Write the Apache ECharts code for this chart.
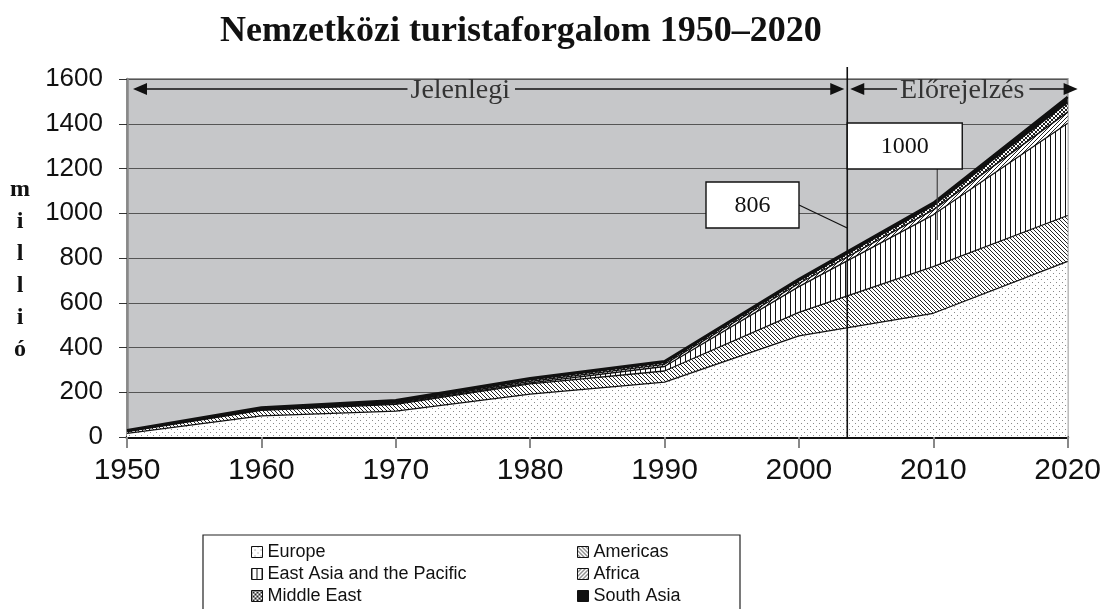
<!DOCTYPE html>
<html><head><meta charset="utf-8">
<script src="https://cdn.jsdelivr.net/npm/echarts@6/dist/echarts.min.js"></script>
<style>html,body{margin:0;padding:0;background:#fff}#c{width:1104px;height:609px}</style>
</head><body><div id="c"></div>
<script>
// ---- data (million international tourist arrivals) ----
const years = ['1950', '1960', '1970', '1980', '1990', '2000', '2010', '2020'];
const europe = [16, 94, 116, 192, 245, 452, 553, 785];
const americas = [8, 25, 30, 45, 50, 105, 208, 205];
const eastAsiaPacific = [1, 2, 3, 5, 20, 115, 232, 412];
const africa = [1, 3, 4, 7, 10, 14, 22, 50];
const middleEast = [1, 2, 3, 6, 7, 12, 19, 42];
const southAsia = [3, 6, 8, 7, 6, 8, 12, 26];
const seriesNames = ['Europe', 'Americas', 'East Asia and the Pacific', 'Africa', 'Middle East', 'South Asia'];
const legendCol1 = ['Europe', 'East Asia and the Pacific', 'Middle East'];
const legendCol2 = ['Americas', 'Africa', 'South Asia'];
const titleText = 'Nemzetközi turistaforgalom 1950–2020';
const yAxisTitle = 'millió';
const periodLabels = ['Jelenlegi', 'Előrejelzés'];
const forecastStart = 2003.6;
const calloutLabels = ['806', '1000'];

// ---- patterns ----
function pat(w, h, draw) {
  const c = document.createElement('canvas'); c.width = w; c.height = h;
  const g = c.getContext('2d'); g.fillStyle = '#fff'; g.fillRect(0, 0, w, h);
  draw(g, w, h); return { image: c, repeat: 'repeat' };
}
const patterns = [
  pat(6, 6, g => { g.fillStyle = '#8a8a8a'; g.fillRect(0, 0, 1, 1); g.fillRect(3, 3, 1, 1); }),
  pat(4, 4, g => { g.fillStyle = '#222'; for (let i = 0; i < 4; i++) g.fillRect(i, i, 1, 1); }),
  pat(5, 2, g => { g.fillStyle = '#111'; g.fillRect(0, 0, 1, 2); }),
  pat(4, 4, g => { g.fillStyle = '#222'; for (let i = 0; i < 4; i++) g.fillRect(3 - i, i, 1, 1); }),
  pat(4, 4, g => { g.fillStyle = '#222'; for (let i = 0; i < 4; i++) { g.fillRect(i, i, 1, 1); g.fillRect(3 - i, i, 1, 1); } }),
  '#111'
];
const values = [europe, americas, eastAsiaPacific, africa, middleEast, southAsia];

const chart = echarts.init(document.getElementById('c'), null, { renderer: 'canvas' });
const legendBase = {
  orient: 'vertical', top: 538, height: 100, itemWidth: 11, itemHeight: 11, itemGap: 4, icon: 'rect',
  itemStyle: { borderColor: '#111', borderWidth: 1 },
  textStyle: { fontSize: 18, fontFamily: 'Liberation Sans, Arial, sans-serif', color: '#111' }
};
chart.setOption({
  animation: false,
  title: { text: titleText, left: 215, top: 9,
    textStyle: { fontSize: 36, fontWeight: 'bold', fontFamily: 'Liberation Serif, Times New Roman, serif', color: '#111' } },
  legend: [
    Object.assign({ data: legendCol1, left: 246 }, legendBase),
    Object.assign({ data: legendCol2, left: 572 }, legendBase)
  ],
  grid: { left: 127, right: 36, top: 79, bottom: 172, show: true, backgroundColor: '#c6c7c9', borderColor: '#999', borderWidth: 2 },
  xAxis: {
    type: 'category', data: years, boundaryGap: false,
    axisLabel: { fontSize: 30, color: '#111', margin: 19, fontFamily: 'Liberation Sans, Arial, sans-serif' },
    axisLine: { onZero: false, lineStyle: { color: '#111', width: 3 } },
    axisTick: { length: 11, lineStyle: { color: '#888', width: 2 } },
    splitLine: { show: false }
  },
  yAxis: {
    type: 'value', min: 0, max: 1600, interval: 200,
    axisLabel: { fontSize: 26, color: '#111', margin: 24, fontFamily: 'Liberation Sans, Arial, sans-serif', formatter: v => String(v) },
    axisLine: { show: true, lineStyle: { color: '#888', width: 2.5 } },
    axisTick: { show: true, length: 8, lineStyle: { color: '#333', width: 1 } },
    splitLine: { lineStyle: { color: '#555', width: 1.2 } }
  },
  series: seriesNames.map((n, k) => ({
    name: n, type: 'line', stack: 'total', symbol: 'none', showSymbol: false,
    data: values[k],
    lineStyle: { color: '#111', width: k === 5 ? 2.6 : 1.3 },
    itemStyle: { color: patterns[k] },
    areaStyle: { color: patterns[k], opacity: 1 }
  }))
});

// ---- annotations placed through the axes ----
const P = (i, y) => chart.convertToPixel({ gridIndex: 0 }, [i, y]);
const yearX = yr => { // pixel x of a (possibly fractional) year
  const a = P(0, 0)[0], b = P(years.length - 1, 0)[0];
  const y0 = +years[0], y1 = +years[years.length - 1];
  return a + (yr - y0) / (y1 - y0) * (b - a);
};
const mc = document.createElement('canvas').getContext('2d');
const tw = (t, f) => { mc.font = f; return mc.measureText(t).width; };
const serif = 'Liberation Serif, Times New Roman, serif';
const lineCol = '#111';
const g = [];
const x0 = yearX(1950), xEnd = yearX(2020), yBot = P(0, 0)[1], yTop = P(0, 1600)[1];
const xF = yearX(forecastStart);
const yH = P(0, 1555)[1];
g.push({ type: 'line', shape: { x1: xF, y1: yTop - 12, x2: xF, y2: yBot }, style: { stroke: lineCol, lineWidth: 1.6 }, z: 10 });

function arrowSpan(xa, xb, xc, text) {
  const font = '28px ' + serif; const w = tw(text, font);
  const ah = 14, hw = 6;
  g.push({ type: 'polygon', shape: { points: [[xa, yH], [xa + ah, yH - hw], [xa + ah, yH + hw]] }, style: { fill: lineCol }, z: 10 });
  g.push({ type: 'polygon', shape: { points: [[xb, yH], [xb - ah, yH - hw], [xb - ah, yH + hw]] }, style: { fill: lineCol }, z: 10 });
  g.push({ type: 'line', shape: { x1: xa + ah - 2, y1: yH, x2: xc - w / 2 - 3, y2: yH }, style: { stroke: lineCol, lineWidth: 1.6 }, z: 10 });
  g.push({ type: 'line', shape: { x1: xc + w / 2 + 5, y1: yH, x2: xb - ah + 2, y2: yH }, style: { stroke: lineCol, lineWidth: 1.6 }, z: 10 });
  g.push({ type: 'text', x: xc, y: yH + 2, style: { text, font, fill: '#333', align: 'center', verticalAlign: 'middle' }, z: 10 });
}
arrowSpan(x0 + 6, xF - 3, yearX(1974.8), periodLabels[0]);
arrowSpan(xF + 3, xEnd + 10, xF + 115, periodLabels[1]);

function callout(x, y, w, h, text) {
  g.push({ type: 'rect', shape: { x, y, width: w, height: h }, style: { fill: '#fff', stroke: lineCol, lineWidth: 1.4 }, z: 10 });
  g.push({ type: 'text', x: x + w / 2, y: y + h / 2 + 1, style: { text, font: '24px ' + serif, fill: '#111', align: 'center', verticalAlign: 'middle' }, z: 11 });
}
g.push({ type: 'line', shape: { x1: 799, y1: 205, x2: xF, y2: 228 }, style: { stroke: lineCol, lineWidth: 1.2 }, z: 9 });
callout(706, 182, 93, 46, calloutLabels[0]);
const x2010 = yearX(2010);
g.push({ type: 'line', shape: { x1: x2010 + 4, y1: 169, x2: x2010 + 4, y2: 240 }, style: { stroke: '#444', lineWidth: 1.2 }, z: 9 });
callout(xF, 123, 115, 46, calloutLabels[1]);

// y-axis title (stacked letters)
g.push({ type: 'text', x: 20, y: 174, style: { text: yAxisTitle.split('').join('\n'), font: 'bold 24px ' + serif, fill: '#111', align: 'center', verticalAlign: 'top', lineHeight: 32 }, z: 10 });
// legend frame
g.push({ type: 'rect', shape: { x: 203, y: 535, width: 537, height: 90 }, style: { fill: 'none', stroke: '#222', lineWidth: 1.2 }, z: 1 });

chart.setOption({ graphic: g });
</script></body></html>
